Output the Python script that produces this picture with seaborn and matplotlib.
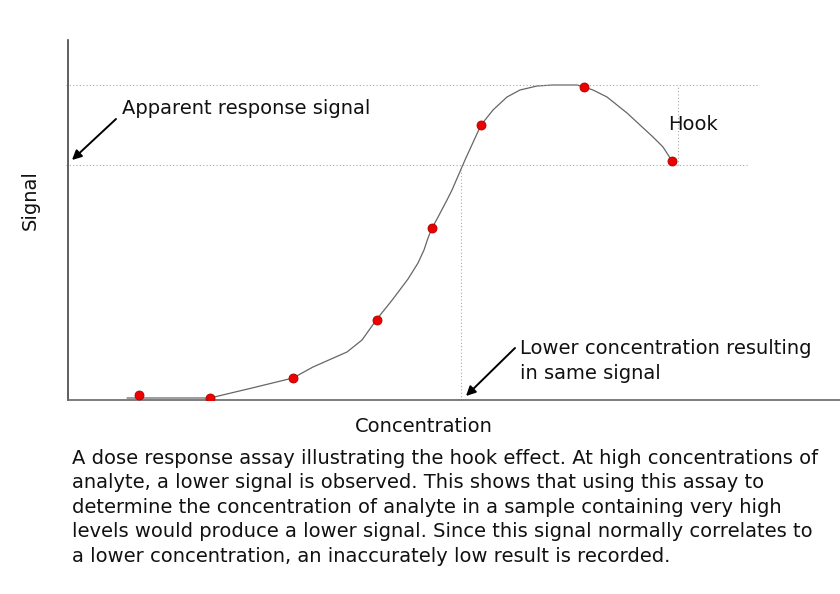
import matplotlib
matplotlib.use("Agg")
import matplotlib.pyplot as plt
import seaborn as sns
import pandas as pd

# Measured dose points (concentration, signal) in arbitrary units
point_conc = [71, 142, 225, 309, 364, 413, 516, 604]
point_signal = [5, 2, 22, 80, 172, 275, 313, 239]

# Hand-drawn response curve vertices
curve_conc = [59, 142, 184, 225, 245, 279, 294, 309, 325, 340, 350, 356, 360, 364,
              369, 379, 384, 397, 413, 425, 439, 452, 469, 485, 509, 516, 525, 539,
              559, 585, 595, 604]
curve_signal = [2, 2, 12, 22, 33, 48, 60, 81, 101, 121, 137, 150, 162, 172,
                181, 200, 210, 240, 275, 290, 303, 310, 314, 315, 315, 313, 310, 303,
                287, 263, 253, 239]

peak_signal = 315
apparent_signal = 235
lower_conc = 393
hook_conc = 610

caption = ("A dose response assay illustrating the hook effect. At high concentrations of\n"
           "analyte, a lower signal is observed. This shows that using this assay to\n"
           "determine the concentration of analyte in a sample containing very high\n"
           "levels would produce a lower signal. Since this signal normally correlates to\n"
           "a lower concentration, an inaccurately low result is recorded.")

sns.set_style("white")
plt.rcParams['font.family'] = ['DejaVu Sans']
plt.rcParams['text.color'] = '#111111'

fig = plt.figure(figsize=(8.4, 5.94), dpi=100)
W, H = 840, 594
ax = fig.add_axes([68 / W, (H - 400) / H, (840 - 68) / W, (400 - 40) / H])

curve_df = pd.DataFrame({"conc": curve_conc, "signal": curve_signal})
pts_df = pd.DataFrame({"conc": point_conc, "signal": point_signal})

sns.lineplot(data=curve_df, x="conc", y="signal", ax=ax, color="#666666",
             lw=0.9, sort=False, estimator=None)
sns.scatterplot(data=pts_df, x="conc", y="signal", ax=ax, color="#ee0000",
                edgecolor="#aa0000", linewidth=0.6, s=42, zorder=5)

dot = dict(color="#aaaaaa", lw=0.8, linestyle=(0, (1, 2)), clip_on=False)
ax.plot([-2, 690], [peak_signal, peak_signal], **dot)
ax.plot([-2, 680], [apparent_signal, apparent_signal], **dot)
ax.plot([lower_conc, lower_conc], [0, apparent_signal], **dot)
ax.plot([hook_conc, hook_conc], [apparent_signal, peak_signal], **dot)

ax.set_xlim(0, 772)
ax.set_ylim(0, 360)
ax.set_xticks([])
ax.set_yticks([])
ax.set_xlabel("")
ax.set_ylabel("")
for side in ["top", "right"]:
    ax.spines[side].set_visible(False)
ax.spines["left"].set_color("#444444")
ax.spines["bottom"].set_color("#666666")
for side in ["left", "bottom"]:
    ax.spines[side].set_linewidth(1.2)

arrow = dict(arrowstyle="-|>", color="black", lw=1.4, mutation_scale=14,
             shrinkA=0, shrinkB=0)
ax.annotate("", xy=(4, 240), xytext=(48, 281), arrowprops=arrow)
ax.text(54, 292, "Apparent response signal", fontsize=14, va="center", ha="left")
ax.annotate("", xy=(398, 4), xytext=(447, 52), arrowprops=arrow)
ax.text(452, 39, "Lower concentration resulting\nin same signal", fontsize=14,
        va="center", ha="left", linespacing=1.38)
ax.text(600, 275, "Hook", fontsize=14, va="center", ha="left")

fig.text(30 / W, 1 - 200 / H, "Signal", fontsize=14, rotation=90,
         ha="center", va="center")
fig.text(424 / W, 1 - 427 / H, "Concentration", fontsize=14, ha="center", va="center")
fig.text(72 / W, 1 - 449 / H, caption, fontsize=14, ha="left", va="top",
         linespacing=1.36)

fig.savefig("out.png", dpi=100, facecolor="white")
